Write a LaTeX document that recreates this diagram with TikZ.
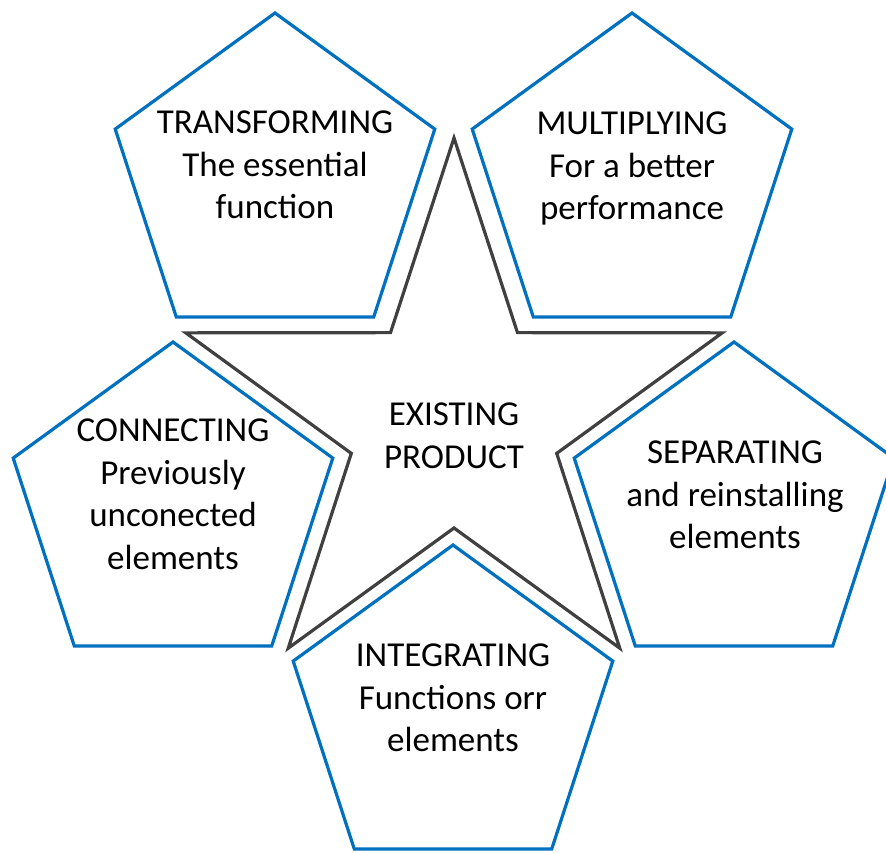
\documentclass[tikz,border=0pt]{standalone}
\usepackage{fontspec}
\setmainfont{Carlito}
\usetikzlibrary{shapes.geometric}
\definecolor{pblue}{RGB}{0,112,192}
\definecolor{sgray}{RGB}{64,64,64}
\begin{document}
\begin{tikzpicture}[x=1pt,y=-1pt,
  pent/.style={regular polygon, regular polygon sides=5, minimum size=336pt,
    draw=pblue, line width=3.2pt, inner sep=0pt},
  starline/.style={draw=sgray, line width=3.2pt, line join=miter},
  lbl/.style={align=center, font=\fontsize{35}{42.5}\selectfont, text=black, inner sep=0pt}]
\useasboundingbox[fill=white] (0,0) rectangle (886,852);
\clip (0,0) rectangle (886,852);
% star
\coordinate (sc) at (454,420);
\draw[starline] (sc) +(-90:282) -- +(-54:108) -- +(-18:282) -- +(18:108) -- +(54:282)
  -- +(90:108) -- +(126:282) -- +(162:108) -- +(198:282) -- +(234:108) -- cycle;
% pentagons
\node[pent] (p1) at (275,181) {};
\node[pent] (p2) at (632,181) {};
\node[pent] (p3) at (173,510) {};
\node[pent] (p4) at (734,510) {};
\node[pent] (p5) at (453,713) {};
% labels
\node[lbl] (t1) at (275,165) {TRANSFORMING\\The essential\\function};
\node[lbl] (t2) at (632,168.5) {MULTIPLYING\\For a better\\performance};
\node[lbl] (t3) at (173,494.5) {CONNECTING\\Previously\\unconected\\elements};
\node[lbl] (t4) at (735,495) {SEPARATING\\and reinstalling\\elements};
\node[lbl] (t5) at (453,698) {INTEGRATING\\Functions orr\\elements};
\node[lbl] (t0) at (454,436) {EXISTING\\PRODUCT};
\end{tikzpicture}
\end{document}
